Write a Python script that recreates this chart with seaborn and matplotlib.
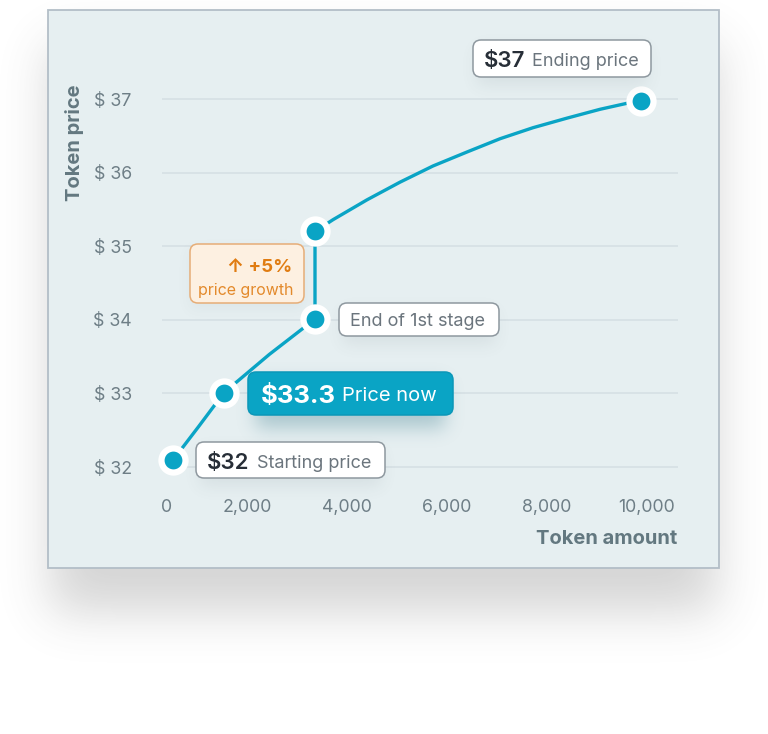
import numpy as np
import pandas as pd
import matplotlib
matplotlib.use("Agg")
import matplotlib.pyplot as plt
from matplotlib.patches import FancyBboxPatch, Rectangle
import matplotlib.transforms as mtransforms
import seaborn as sns

# ---------------- data ----------------
token_amount = [527, 1033, 1540, 2447, 3360, 3360, 3720, 4400, 5060, 5720,
                6400, 7060, 7720, 8400, 9060, 9720, 9880]
token_price = [32.10, 32.55, 33.01, 33.53, 34.01, 35.20, 35.36, 35.63, 35.87,
               36.09, 36.28, 36.46, 36.61, 36.74, 36.86, 36.96, 36.97]
key_point_index = [0, 2, 4, 5, 16]

x_ticks = [0, 2000, 4000, 6000, 8000, 10000]
x_tick_labels = ["0", "2,000", "4,000", "6,000", "8,000", "10,000"]
y_ticks = [32, 33, 34, 35, 36, 37]
y_tick_labels = ["$ 32", "$ 33", "$ 34", "$ 35", "$ 36", "$ 37"]

ending_value, ending_text = "$37", "Ending price"
now_value, now_text = "$33.3", "Price now"
start_value, start_text = "$32", "Starting price"
stage_text = "End of 1st stage"
growth_value, growth_text = "\u2191 +5%", "price growth"
x_label = "Token amount"
y_label = "Token price"

# ---------------- style ----------------
sns.set_style("white")
FONT = ["Inter", "DejaVu Sans"]
plt.rcParams["font.family"] = FONT

TEAL = "#0aa4c5"
CARD = "#e6eff1"
CARD_EDGE = "#b3bec7"
GRID = "#d4dfe3"
TICK = "#6e7e86"
LABEL = "#637880"
DARK = "#272e37"
GRAY = "#6b757d"
BOX_EDGE = "#8e989f"
ORANGE = "#e07c12"

W, H = 768, 734
fig = plt.figure(figsize=(W / 100, H / 100), dpi=100, facecolor="white")


def blur(mask, sigma):
    r = int(3 * sigma)
    k = np.exp(-0.5 * (np.arange(-r, r + 1) / sigma) ** 2)
    k /= k.sum()
    pad = np.pad(mask, r, mode="constant")
    out = np.apply_along_axis(lambda v: np.convolve(v, k, mode="same"), 0, pad)
    out = np.apply_along_axis(lambda v: np.convolve(v, k, mode="same"), 1, out)
    return out[r:-r, r:-r]


def rect_mask(x0, y0, x1, y1):
    m = np.zeros((H, W))
    m[int(y0):int(y1), int(x0):int(x1)] = 1.0
    return m


def rgba(alpha, color):
    c = matplotlib.colors.to_rgb(color)
    img = np.zeros((H, W, 4))
    img[..., 0], img[..., 1], img[..., 2] = c
    img[..., 3] = alpha
    return img


# background layer: card shadow + card
ax_bg = fig.add_axes([0, 0, 1, 1], zorder=0)
ax_bg.axis("off")
card_shadow = blur(rect_mask(50, 45, 717, 612), 24) * 0.24
ax_bg.imshow(rgba(card_shadow, "#505050"), extent=(0, W, H, 0), zorder=0,
             interpolation="bilinear")
ax_bg.add_patch(Rectangle((48, 10), 671, 558, facecolor=CARD,
                          edgecolor=CARD_EDGE, lw=1.3, zorder=1))
ax_bg.set_xlim(0, W)
ax_bg.set_ylim(H, 0)

# ---------------- main chart ----------------
ax = fig.add_axes([147 / W, 1 - 485.4 / H, 531 / W, 404.8 / H], zorder=1)
ax.set_facecolor("none")

df = pd.DataFrame({"tokens": token_amount, "price": token_price})
ax.hlines(y_ticks, 300, 10620, colors=GRID, lw=1.1, zorder=0)
sns.lineplot(data=df, x="tokens", y="price", sort=False, estimator=None,
             color=TEAL, lw=2.4, ax=ax, zorder=2)
key = df.iloc[key_point_index]
sns.scatterplot(data=key, x="tokens", y="price", s=300, color=TEAL,
                edgecolor="white", linewidth=4.5, ax=ax, zorder=3)

ax.set_xlim(0, 10620)
ax.set_ylim(31.75, 37.25)
ax.set_xticks(x_ticks)
ax.set_xticklabels(x_tick_labels)
ax.set_yticks(y_ticks)
ax.set_yticklabels(y_tick_labels)
ax.tick_params(axis="both", length=0, labelsize=12.8, colors=TICK)
ax.tick_params(axis="x", pad=10)
ax.tick_params(axis="y", pad=11)
lab0 = ax.get_xticklabels()[0]
lab0.set_transform(lab0.get_transform() +
                   mtransforms.ScaledTranslation(0.2, 0, fig.dpi_scale_trans))
for s in ax.spines.values():
    s.set_visible(False)
ax.set_xlabel("")
ax.set_ylabel("")

# ---------------- overlay: labels & annotation boxes ----------------
ax_top = fig.add_axes([0, 0, 1, 1], zorder=2)
ax_top.set_facecolor("none")
ax_top.axis("off")

white_boxes = [(473, 40, 651, 77), (339, 303, 499, 336), (196, 442, 385, 478)]
sh = np.zeros((H, W))
for (x0, y0, x1, y1) in white_boxes:
    sh += blur(rect_mask(x0 + 4, y0 + 8, x1 - 4, y1 + 8), 8) * 0.10
sh += blur(rect_mask(190, 250, 304, 309), 7) * 0.06
ax_top.imshow(rgba(np.clip(sh, 0, 1), "#4a5a62"), extent=(0, W, H, 0),
              zorder=0, interpolation="bilinear")
sh2 = blur(rect_mask(256, 382, 445, 428), 9) * 0.35
ax_top.imshow(rgba(sh2, "#3f7f8f"), extent=(0, W, H, 0), zorder=0,
              interpolation="bilinear")
ax_top.set_xlim(0, W)
ax_top.set_ylim(H, 0)


def box(x0, y0, x1, y1, fc, ec, r=8):
    ax_top.add_patch(FancyBboxPatch((x0, y0), x1 - x0, y1 - y0,
                                    boxstyle=f"round,pad=0,rounding_size={r}",
                                    facecolor=fc, edgecolor=ec, lw=1.1,
                                    zorder=2, mutation_aspect=1))


def txt(x, y, s, size, color, weight="normal", ha="left"):
    ax_top.text(x, y, s, fontsize=size, color=color, fontweight=weight,
                ha=ha, va="center_baseline", zorder=3, family=FONT)


# ending price
box(473, 40, 651, 77, "white", BOX_EDGE)
txt(484, 59, ending_value, 16, DARK, "semibold")
txt(532, 59, ending_text, 13, GRAY)
# growth
box(190, 244, 304, 303, "#fdf0e1", "#e6ad77")
txt(292, 265, growth_value, 13.5, ORANGE, "bold", ha="right")
txt(293, 289, growth_text, 11.5, "#e38a2c", ha="right")
# end of first stage
box(339, 303, 499, 336, "white", BOX_EDGE)
txt(350, 320, stage_text, 13, GRAY)
# price now
box(248, 372, 453, 415, TEAL, "#0b97b8")
txt(261, 394, now_value, 18.5, "white", "bold")
txt(342, 394, now_text, 14.5, "white")
# starting price
box(196, 442, 385, 478, "white", BOX_EDGE)
txt(207, 461, start_value, 16, DARK, "semibold")
txt(257, 461, start_text, 13, GRAY)

# axis titles
ax_top.text(677, 537, x_label, fontsize=14.5, color=LABEL, fontweight="bold",
            ha="right", va="center_baseline", family=FONT)
ax_top.text(75, 143, y_label, fontsize=14.5, color=LABEL, fontweight="bold",
            ha="center", va="center", rotation=90, family=FONT)

fig.savefig("out.png", dpi=100, facecolor="white")
